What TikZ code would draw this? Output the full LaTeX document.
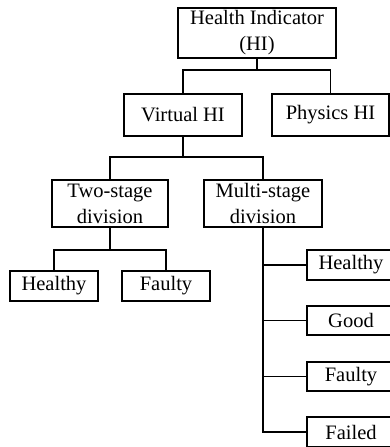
\documentclass[tikz,border=0pt]{standalone}
\usepackage{fontspec}
\setmainfont{Liberation Serif}
\begin{document}
\begin{tikzpicture}[x=1pt,y=-1pt,
  box/.style={draw=black,line width=1.6pt,inner sep=0pt,align=center,
    font=\fontsize{20.5}{26}\selectfont},
  conn/.style={draw=black,line width=1.3pt}]
\useasboundingbox (0,0) rectangle (390,447);
\node[box,minimum width=158pt,minimum height=50pt] (hi) at (257,33) {Health Indicator\\(HI)};
\node[box,minimum width=118pt,minimum height=42pt] (virt) at (183,115) {Virtual HI};
\node[box,minimum width=117pt,minimum height=42pt] (phys) at (330.5,115) {Physics HI};
\node[box,minimum width=116pt,minimum height=47pt] (two) at (110,203.5) {Two-stage\\division};
\node[box,minimum width=118pt,minimum height=47pt] (multi) at (263,203.5) {Multi-stage\\division};
\node[box,minimum width=88pt,minimum height=30pt] (lh) at (54,286) {Healthy};
\node[box,minimum width=88pt,minimum height=30pt] (lf) at (166,286) {Faulty};
\node[box,minimum width=88pt,minimum height=30pt] (rh) at (351,265) {Healthy};
\node[box,minimum width=88pt,minimum height=29pt] (rg) at (351,320.5) {Good};
\node[box,minimum width=88pt,minimum height=29pt] (rf) at (351,376.5) {Faulty};
\node[box,minimum width=88pt,minimum height=30pt] (rx) at (351,432) {Failed};
% connectors
\coordinate (j1) at (257,70);
\coordinate (j2) at (183,157);
\coordinate (j3) at (110,250);
\draw[conn] (hi.south) -- (j1);
\draw[conn] (j1) -| (virt.north);
\draw[conn] (j1) -| (phys.north);
\draw[conn] (virt.south) -- (j2);
\draw[conn] (j2) -| (two.north);
\draw[conn] (j2) -| (multi.north);
\draw[conn] (two.south) -- (j3);
\draw[conn] (j3) -| (lh.north);
\draw[conn] (j3) -| (lf.north);
\draw[conn] (multi.south) |- (rx.west);
\draw[conn] (multi.south |- rh.west) -- (rh.west);
\draw[conn] (multi.south |- rg.west) -- (rg.west);
\draw[conn] (multi.south |- rf.west) -- (rf.west);
\end{tikzpicture}
\end{document}
